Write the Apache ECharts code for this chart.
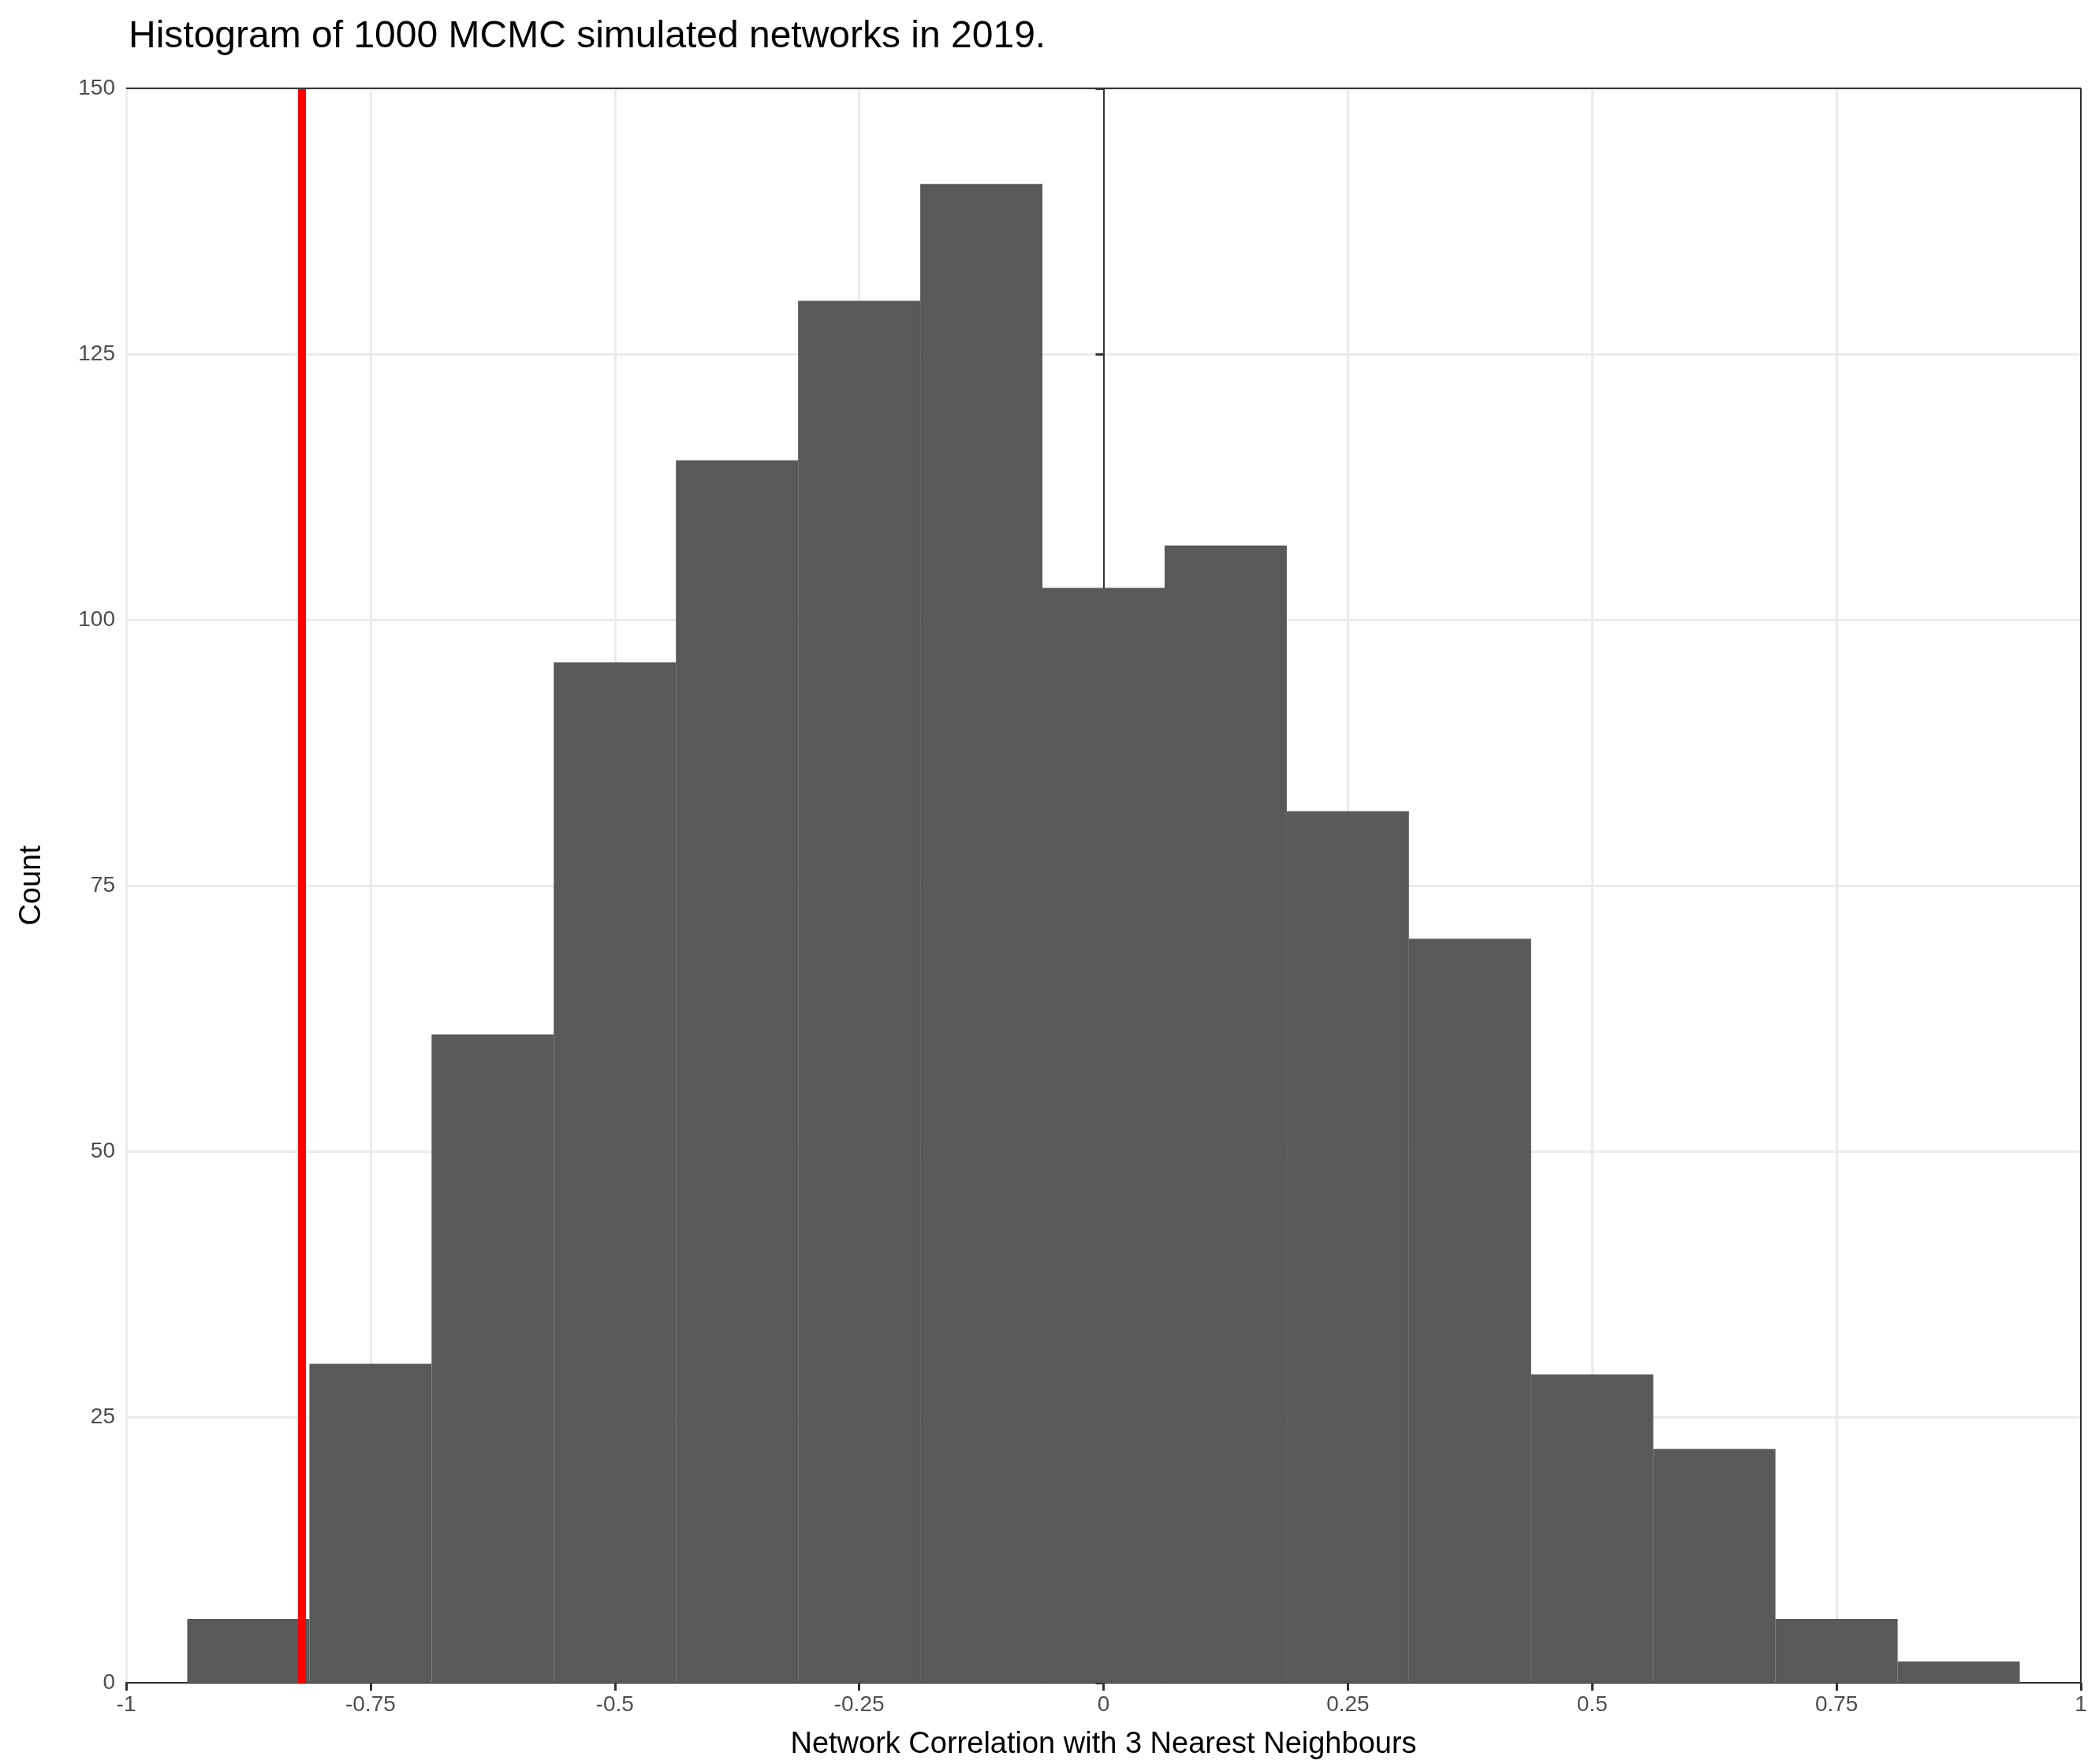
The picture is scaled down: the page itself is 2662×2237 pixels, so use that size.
<!DOCTYPE html>
<html>
<head>
<meta charset="utf-8">
<script src="https://cdn.jsdelivr.net/npm/echarts@6/dist/echarts.min.js"></script>
<style>html,body{margin:0;padding:0;background:#fff}#main{width:2662px;height:2237px}</style>
</head>
<body>
<div id="main"></div>
<script>
// histogram bins (left edge, right edge) and counts
var binStart = [-0.9375, -0.8125, -0.6875, -0.5625, -0.4375, -0.3125, -0.1875, -0.0625, 0.0625, 0.1875, 0.3125, 0.4375, 0.5625, 0.6875, 0.8125];
var binWidth = 0.125;
var counts = [6, 30, 61, 96, 115, 130, 141, 103, 107, 82, 70, 29, 22, 6, 2];
var observed = -0.822;
var xTicks = {'-1': '-1', '-0.75': '-0.75', '-0.5': '-0.5', '-0.25': '-0.25', '0': '0', '0.25': '0.25', '0.5': '0.5', '0.75': '0.75', '1': '1'};

var bars = binStart.map(function (s, i) { return [s, s + binWidth, counts[i]]; });
var font = 'Liberation Sans, Arial, sans-serif';

var chart = echarts.init(document.getElementById('main'));
chart.setOption({
  animation: false,
  title: {
    text: 'Histogram of 1000 MCMC simulated networks in 2019.',
    left: 158, top: 18,
    textStyle: {fontFamily: font, fontSize: 48, fontWeight: 'normal', color: '#000'}
  },
  grid: {left: 160, right: 23, top: 112, bottom: 82},
  xAxis: {
    type: 'value', min: -1, max: 1, interval: 0.25,
    name: 'Network Correlation with 3 Nearest Neighbours',
    nameLocation: 'middle', nameGap: 60,
    nameTextStyle: {fontFamily: font, fontSize: 38, color: '#000'},
    axisLine: {onZero: false, lineStyle: {color: '#333', width: 2}},
    axisTick: {show: true, length: 10, lineStyle: {color: '#333', width: 3}},
    axisLabel: {fontFamily: font, fontSize: 28, color: '#4d4d4d', margin: 14,
      formatter: function (v) { return xTicks[String(v)] || String(v); }},
    splitLine: {show: true, lineStyle: {color: '#ebebeb', width: 3}}
  },
  yAxis: {
    type: 'value', min: 0, max: 150, interval: 25,
    name: 'Count', nameLocation: 'middle', nameGap: 100,
    nameTextStyle: {fontFamily: font, fontSize: 38, color: '#000'},
    axisLine: {show: true, lineStyle: {color: '#333', width: 2}},
    axisTick: {show: true, length: 10, lineStyle: {color: '#333', width: 3}},
    axisLabel: {fontFamily: font, fontSize: 28, color: '#4d4d4d', margin: 14},
    splitLine: {show: true, lineStyle: {color: '#ebebeb', width: 3}}
  },
  series: [{
    type: 'custom',
    data: bars,
    encode: {x: [0, 1], y: 2},
    renderItem: function (params, api) {
      var p0 = api.coord([api.value(0), 0]);
      var p1 = api.coord([api.value(1), api.value(2)]);
      return {type: 'rect', shape: {x: p0[0], y: p1[1], width: p1[0] - p0[0], height: p0[1] - p1[1]},
        style: {fill: '#595959'}};
    }
  }, {
    type: 'line',
    data: [],
    markLine: {
      silent: true, symbol: 'none', label: {show: false},
      lineStyle: {color: '#ff0000', width: 10, type: 'solid'},
      data: [{xAxis: observed}]
    }
  }, {
    // box right/top border
    type: 'line', data: [],
    markLine: {
      silent: true, symbol: 'none', label: {show: false},
      lineStyle: {color: '#333', width: 2, type: 'solid'},
      data: [{xAxis: 1}, {yAxis: 150}]
    }
  }]
});
</script>
</body>
</html>
